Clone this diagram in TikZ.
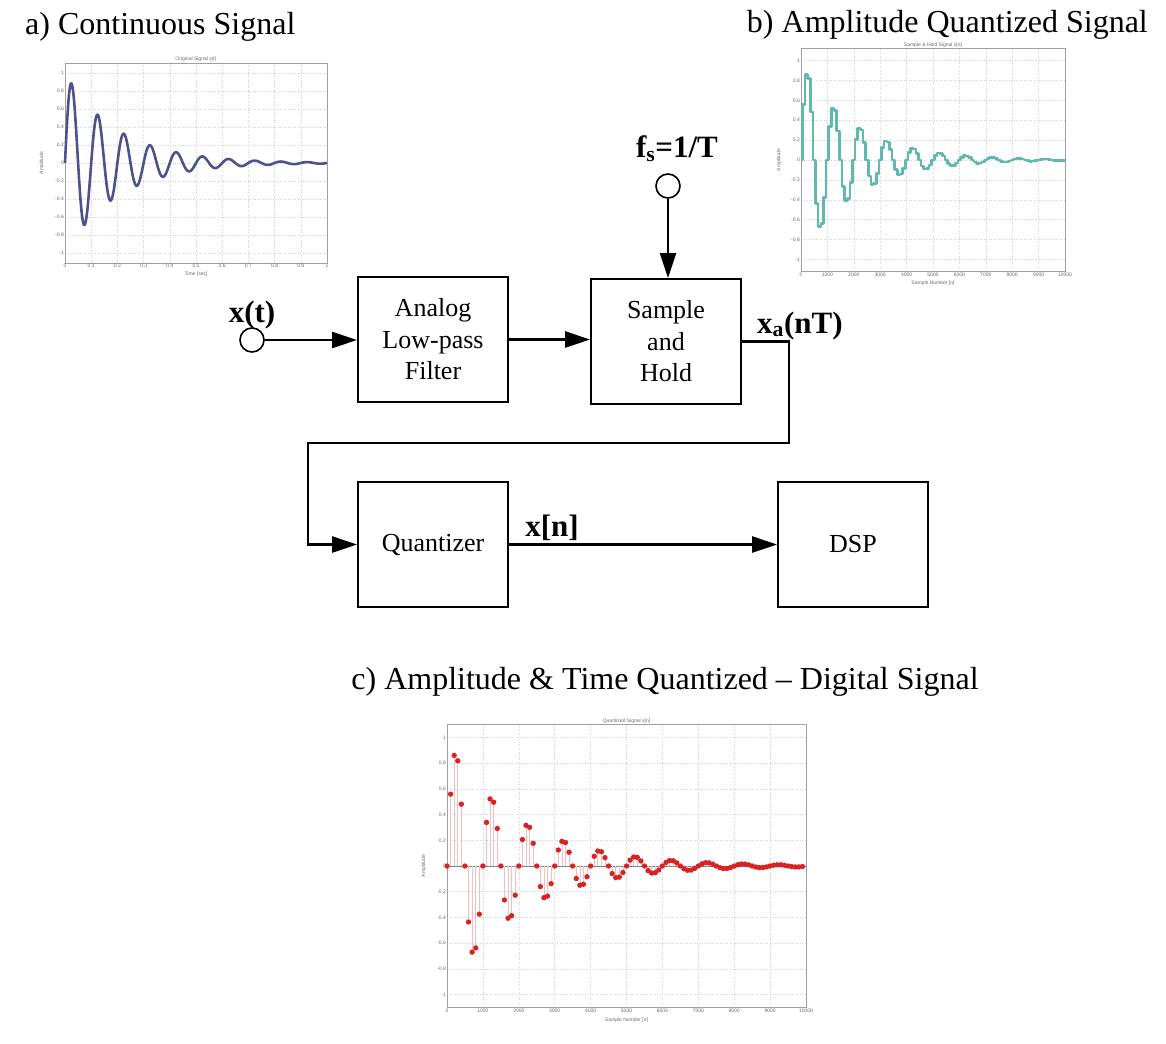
\documentclass[tikz,border=0pt]{standalone}
\usepackage{fontspec}
\setmainfont{Liberation Serif}
\setsansfont{Liberation Sans}
\usetikzlibrary{arrows.meta}
\definecolor{sigA}{RGB}{78,82,140}
\definecolor{sigB}{RGB}{95,185,172}
\definecolor{sigC}{RGB}{215,35,35}
\definecolor{stemC}{RGB}{243,190,190}
\definecolor{gridc}{RGB}{210,210,210}
\definecolor{axc}{RGB}{160,160,160}
\definecolor{tickc}{RGB}{105,105,105}
\begin{document}
\begin{tikzpicture}[x=1pt,y=-1pt,
  blockbox/.style={draw, line width=1.8pt, minimum width=150pt, minimum height=125pt, align=center, font=\fontsize{26}{31.5}\selectfont, inner sep=0pt},
  conn/.style={line width=2.2pt, -{Triangle[length=25pt,width=16pt]}},
  port/.style={circle, draw, line width=1.6pt, minimum size=24pt, inner sep=0pt},
  lbl/.style={font=\fontsize{31}{31}\selectfont\bfseries, inner sep=0pt},
  ttl/.style={font=\fontsize{32}{36}\selectfont, inner sep=0pt},
  tk/.style={font=\sffamily\fontsize{5}{6}\selectfont, text=tickc, inner sep=1pt},
  gridl/.style={gridc, dotted, line width=0.5pt},
  axbox/.style={axc, line width=0.6pt}]
\useasboundingbox (0,0) rectangle (1166,1043);

% ---------- titles ----------
\node[ttl, anchor=base west] (ta) at (25,35) {a) Continuous Signal};
\node[ttl, anchor=base east] (tb) at (1148,33) {b) Amplitude Quantized Signal};
\node[ttl, anchor=base] (tc) at (665,689) {c) Amplitude \& Time Quantized -- Digital Signal};

% ---------- plot a ----------
\begin{scope}[shift={(65,163)}, x=262pt, y=90pt]
  \foreach \i in {1,...,9} \draw[gridl] (\i/10,-1.11) -- (\i/10,1.11);
  \foreach \j in {-5,...,5} \draw[gridl] (0,\j/5) -- (1,\j/5);
  \draw[axbox] (0,-1.11) rectangle (1,1.11);
  \draw[sigA, line width=2.6pt, line join=round] plot[domain=0:1, samples=600] (\x, {exp(-5*\x)*sin(3600*\x)});
  \foreach \j/\t in {5/1,4/0.8,3/0.6,2/0.4,1/0.2,0/0,-1/-0.2,-2/-0.4,-3/-0.6,-4/-0.8,-5/-1}
    \node[tk, anchor=east] at (0,\j/5) {\t};
  \foreach \i/\t in {0/0,1/0.1,2/0.2,3/0.3,4/0.4,5/0.5,6/0.6,7/0.7,8/0.8,9/0.9,10/1}
    \node[tk, anchor=north] at (\i/10,-1.11) {\t};
  \node[tk, anchor=south] at (0.5,1.11) {Original Signal x(t)};
  \node[tk, rotate=90, anchor=south] at (-0.075,0) {Amplitude};
  \node[tk, anchor=north] at (0.5,-1.2) {Time [sec]};
\end{scope}

% ---------- plot b ----------
\begin{scope}[shift={(801,160)}, x=0.0264pt, y=99.5pt]
  \foreach \i in {1,...,9} \draw[gridl] (\i*1000,-1.12) -- (\i*1000,1.12);
  \foreach \j in {-5,...,5} \draw[gridl] (0,\j/5) -- (10000,\j/5);
  \draw[axbox] (0,-1.12) rectangle (10000,1.12);
  \draw[sigB, line width=2.6pt, line join=round] (0,0)
    foreach \k in {1,...,99} { -- ({100*\k-50},{exp(-0.05*(\k-1))*sin(36*(\k-1))}) -- ({100*\k-50},{exp(-0.05*\k)*sin(36*\k)}) }
    -- (10000,{exp(-4.95)*sin(3564)});
  \foreach \j/\t in {5/1,4/0.8,3/0.6,2/0.4,1/0.2,0/0,-1/-0.2,-2/-0.4,-3/-0.6,-4/-0.8,-5/-1}
    \node[tk, anchor=east] at (0,\j/5) {\t};
  \foreach \i in {0,...,10}
    \node[tk, anchor=north] at (\i*1000,-1.12) {\pgfmathparse{int(\i*1000)}\pgfmathresult};
  \node[tk, anchor=south] at (5000,1.12) {Sample \& Hold Signal x[n]};
  \node[tk, rotate=90, anchor=south] at (-700,0) {Amplitude};
  \node[tk, anchor=north] at (5000,-1.2) {Sample Number [n]};
\end{scope}

% ---------- plot c ----------
\begin{scope}[shift={(447,866)}, x=0.0359pt, y=128.5pt]
  \foreach \i in {1,...,9} \draw[gridl] (\i*1000,-1.1) -- (\i*1000,1.1);
  \foreach \j in {-5,...,5} \draw[gridl] (0,\j/5) -- (10000,\j/5);
  \draw[axbox] (0,-1.1) rectangle (10000,1.1);
  \draw[gray, line width=0.6pt] (0,0) -- (10000,0);
  \foreach \k in {0,...,99} {
    \pgfmathsetmacro\v{exp(-0.05*\k)*sin(36*\k)}
    \draw[stemC, line width=0.7pt] (100*\k,0) -- (100*\k,\v);
  }
  \foreach \k in {0,...,99} {
    \pgfmathsetmacro\v{exp(-0.05*\k)*sin(36*\k)}
    \fill[sigC] (100*\k,\v) circle[radius=2.7pt];
  }
  \foreach \j/\t in {5/1,4/0.8,3/0.6,2/0.4,1/0.2,0/0,-1/-0.2,-2/-0.4,-3/-0.6,-4/-0.8,-5/-1}
    \node[tk, anchor=east] at (0,\j/5) {\t};
  \foreach \i in {0,...,10}
    \node[tk, anchor=north] at (\i*1000,-1.1) {\pgfmathparse{int(\i*1000)}\pgfmathresult};
  \node[tk, anchor=south] at (5000,1.1) {Quantized Signal x[n]};
  \node[tk, rotate=90, anchor=south] at (-550,0) {Amplitude};
  \node[tk, anchor=north] at (5000,-1.17) {Sample Number [n]};
\end{scope}

% ---------- block diagram ----------
\node[port] (xin) at (252,340) {};
\node[lbl, anchor=base] (xinl) at (252,322) {x(t)};
\node[blockbox] (lpf) at (433,339.5) {Analog\\Low-pass\\Filter};
\node[blockbox] (sh) at (666,341.5) {Sample\\and\\Hold};
\node[blockbox] (q) at (433,544.5) {Quantizer};
\node[blockbox] (dsp) at (853,544.5) {DSP};
\node[port] (fs) at (668,186) {};
\node[lbl, anchor=base] (fsl) at (677,158) {f\textsubscript{s}=1/T};
\coordinate (c1) at (789,443);
\coordinate (c2) at (308,443);

\draw[conn] (xin.east) -- (lpf.west |- xin);
\draw[conn] (lpf.east) -- (lpf.east -| sh.west);
\draw[conn] (fs.south) -- (fs |- sh.north);
\draw[conn, line join=miter] (sh.east) -| (c1) -- (c2) |- (q.west);
\draw[conn] (q.east) -- (dsp.west);

\node[lbl, anchor=base west] (xal) at (757,333) {x\textsubscript{a}(nT)};
\node[lbl, anchor=base] (xnl) at (552,536) {x[n]};
\end{tikzpicture}
\end{document}
